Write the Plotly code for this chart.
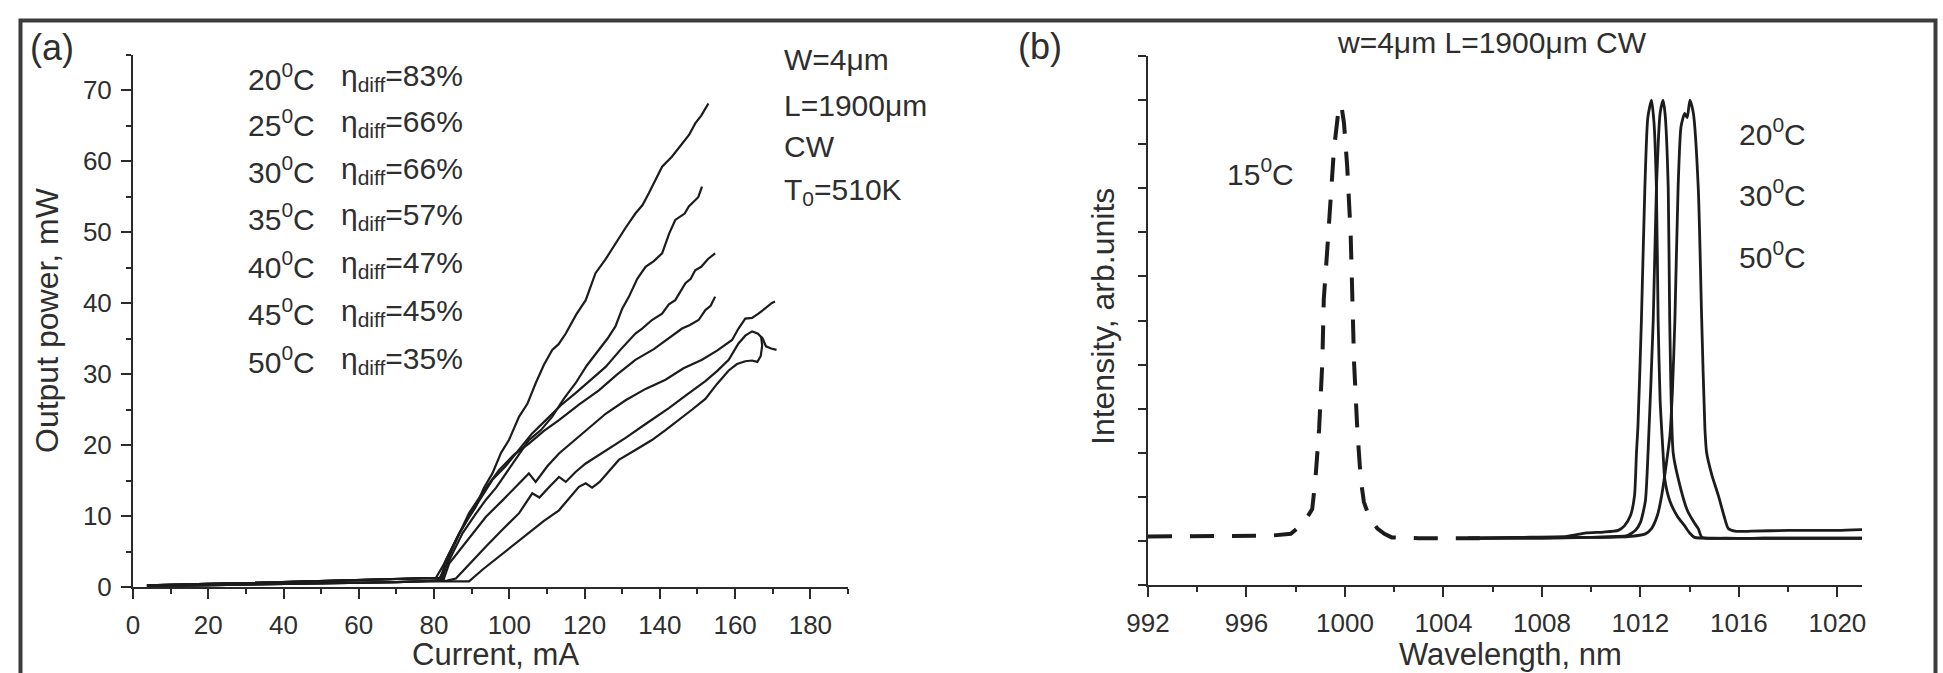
import plotly.graph_objects as go

W, H = 1943, 673
FONT = "Liberation Sans, Arial, sans-serif"
INK = "#1c1c1c"
TXT = "#2e2e2e"

# ---------------- Panel (a): L-I curves ----------------
temps_a = ["20", "25", "30", "35", "40", "45", "50"]
eta_a = ["83", "66", "66", "57", "47", "45", "35"]

# sub-threshold part (spontaneous emission), two slightly different levels
i_sub = [3.7, 10, 20, 30, 40, 50, 60, 70, 76]
p_sub_hi = [0.25, 0.35, 0.45, 0.55, 0.7, 0.8, 0.95, 1.05, 1.2]
p_sub_lo = [0.1, 0.15, 0.2, 0.3, 0.4, 0.5, 0.6, 0.7, 0.8]

i_20 = i_sub + [80.5, 82.3, 84.5, 86.7, 89, 91.1, 93.2, 95.5, 97.8, 99.9, 102.6, 104.8, 107.0, 109.2, 111.4,
                113.1, 115.0, 117.8, 120.3, 122.9, 125.5, 128.2, 130.9, 133.5, 135.4, 137.1, 139.0, 140.6,
                143.2, 145.9, 147.8, 149.4, 151.0, 152.9]
p_20 = p_sub_hi + [1.3, 2.9, 5.2, 7.6, 9.6, 11.3, 13.9, 16.0, 18.9, 20.7, 24.0, 25.8, 28.7, 31.3, 33.4,
                   34.2, 35.7, 38.4, 40.4, 44.2, 46.1, 48.4, 50.6, 52.6, 53.8, 55.5, 57.6, 59.2,
                   60.6, 62.5, 63.7, 65.3, 66.4, 68.1]

i_25 = i_sub + [81.5, 83.2, 85.5, 87.6, 90.8, 93.8, 96.5, 99.1, 102.3, 105.2, 108.4, 111.4, 114.6, 117.6,
                120.6, 123.8, 126.1, 128.2, 130.0, 131.8, 134.0, 136.2, 138.4, 140.6, 142.5, 144.1, 145.6,
                146.6, 147.7, 149.0, 150.2, 151.2]
p_25 = p_sub_hi + [1.3, 2.9, 5.3, 7.6, 10.1, 12.3, 14.0, 16.0, 18.6, 20.7, 22.1, 24.0, 26.6, 28.7,
                   31.2, 33.4, 35.0, 36.7, 39.2, 40.9, 43.4, 45.1, 45.9, 47.0, 49.8, 51.7, 52.3,
                   52.6, 53.6, 54.3, 54.9, 56.4]

i_30 = i_sub + [81.8, 83.2, 86.1, 89.3, 92.4, 95.5, 99.0, 102.6, 106.0, 109.7, 113.7, 117.6, 121.6, 125.6,
                129.5, 133.5, 135.3, 137.9, 140.6, 142.4, 144.1, 146.8, 148.2, 149.4, 151.0, 152.8, 154.7]
p_30 = p_sub_hi + [1.3, 3.8, 6.9, 9.9, 12.6, 15.1, 17.0, 19.3, 21.6, 23.5, 25.6, 27.3, 29.2, 31.0,
                   33.4, 35.7, 36.4, 37.6, 38.5, 39.8, 40.4, 42.8, 43.4, 44.6, 45.1, 46.2, 47.0]

i_35 = i_sub + [82.2, 84.0, 86.6, 89.3, 93.3, 97.3, 101.2, 105.2, 109.2, 113.2, 118.5, 123.8, 128.6, 133.5,
                138.4, 143.2, 145.9, 148.0, 150.3, 152.1, 153.5, 154.7]
p_35 = p_sub_hi + [1.2, 4.3, 7.4, 10.4, 13.6, 16.5, 18.6, 20.2, 22.0, 23.5, 25.7, 27.7, 29.9, 32.0,
                   33.5, 35.3, 36.4, 36.9, 37.6, 39.0, 39.6, 40.9]

i_40 = i_sub + [82.5, 84.0, 88.9, 93.8, 98.2, 102.6, 105.2, 107.0, 110.1, 113.2, 116.8, 120.3, 125.6, 130.9,
                136.2, 141.5, 146.3, 151.2, 155.2, 159.2, 160.9, 162.7, 164.5, 166.2, 168.2, 169.8, 170.6]
p_40 = p_sub_lo + [1.0, 3.3, 6.6, 9.9, 12.2, 14.6, 16.0, 14.8, 17.0, 18.8, 20.4, 22.0, 24.4, 26.3,
                   27.9, 29.2, 30.8, 32.0, 33.3, 34.8, 36.4, 37.8, 37.9, 38.5, 39.4, 40.0, 40.2]

i_45 = i_sub + [83.5, 85.8, 89.8, 93.8, 98.2, 102.6, 106.1, 108.0, 110.6, 113.2, 115.0, 117.6, 120.3, 125.6,
                130.9, 136.6, 142.4, 147.2, 152.1, 155.2, 158.3, 160.9, 162.7, 164.5, 166.0, 167.3, 168.2,
                169.6, 171.0]
p_45 = p_sub_lo + [0.9, 1.2, 3.5, 5.7, 8.1, 10.4, 13.2, 12.6, 14.1, 15.5, 14.8, 16.2, 17.4, 19.2,
                   21.0, 23.1, 25.2, 27.1, 29.0, 30.4, 32.0, 34.3, 35.4, 36.0, 35.7, 35.0, 33.9,
                   33.6, 33.4]

i_50 = i_sub + [84.0, 87.0, 89.3, 93.0, 98.2, 101.7, 105.2, 109.2, 113.2, 118.5, 120.3, 122.0, 124.0, 129.1,
                133.5, 137.9, 141.5, 145.0, 148.6, 152.1, 155.2, 158.3, 160.5, 162.7, 164.5, 165.9, 166.8,
                167.2, 166.9]
p_50 = p_sub_lo + [0.85, 0.85, 0.8, 2.5, 4.7, 6.1, 7.6, 9.3, 10.8, 14.1, 14.6, 14.0, 14.8, 17.9,
                   19.3, 20.7, 22.1, 23.5, 25.0, 26.5, 28.6, 30.5, 31.4, 31.8, 31.9, 31.7, 32.5,
                   34.0, 35.3]

curves_a = [(i_20, p_20), (i_25, p_25), (i_30, p_30), (i_35, p_35),
            (i_40, p_40), (i_45, p_45), (i_50, p_50)]

# ---------------- Panel (b): spectra ----------------
wl_15 = [992, 993, 994, 995, 996, 997, 997.8, 998.06, 998.4, 998.67, 998.8, 998.95, 999.08, 999.14,
         999.28, 999.41, 999.55, 999.75, 999.85, 999.96, 1000.09, 1000.23, 1000.3, 1000.37, 1000.5,
         1000.64, 1000.77, 1001.0, 1001.32, 1001.6, 1001.9, 1002.5, 1003, 1004, 1005, 1005.9]
int_15 = [0.05, 0.05, 0.06, 0.06, 0.06, 0.06, 0.08, 0.14, 0.24, 0.36, 0.70, 1.27, 2.02, 2.74,
          3.30, 3.87, 4.43, 4.92, 4.95, 4.74, 4.25, 3.49, 2.74, 2.02, 1.27,
          0.70, 0.44, 0.26, 0.14, 0.08, 0.04, 0.03, 0.03, 0.03, 0.03, 0.03]

wl_20 = [1005, 1007, 1009, 1009.8, 1010.5, 1011.1, 1011.35, 1011.6, 1011.76, 1011.84, 1011.9, 1012.04,
         1012.18, 1012.3, 1012.45, 1012.55, 1012.65, 1012.72, 1012.8, 1012.92, 1012.99, 1013.2, 1013.5,
         1013.8, 1014.0, 1014.2, 1015, 1017, 1019, 1021.1]
int_20 = [0.03, 0.04, 0.05, 0.09, 0.10, 0.12, 0.17, 0.29, 0.51, 1.0, 1.3, 2.5,
          4.0, 4.8, 5.0, 4.75, 4.0, 2.5, 1.6, 1.0, 0.7, 0.45, 0.28,
          0.17, 0.09, 0.04, 0.03, 0.03, 0.03, 0.03]

wl_30 = [1005, 1008, 1010, 1011, 1011.46, 1011.8, 1012.0, 1012.2, 1012.31, 1012.52, 1012.65, 1012.8,
         1012.92, 1013.0, 1013.13, 1013.19, 1013.33, 1013.54, 1013.9, 1014.2, 1014.35, 1014.5, 1015.5,
         1017, 1019, 1021.1]
int_30 = [0.03, 0.03, 0.04, 0.05, 0.06, 0.12, 0.21, 0.45, 1.0, 2.5, 4.0, 4.85,
          5.0, 4.85, 4.0, 2.5, 1.0, 0.7, 0.35, 0.2, 0.14, 0.04, 0.03,
          0.03, 0.03, 0.03]

wl_50 = [1005, 1008, 1010, 1011.5, 1012.2, 1012.45, 1012.7, 1012.86, 1013.06, 1013.2, 1013.3, 1013.4,
         1013.53, 1013.65, 1013.8, 1013.9, 1014.01, 1014.15, 1014.35, 1014.49, 1014.62, 1014.69, 1014.9,
         1015.17, 1015.4, 1015.57, 1015.84, 1016.5, 1018, 1020, 1021.1]
int_50 = [0.03, 0.04, 0.04, 0.05, 0.08, 0.14, 0.30, 0.51, 0.89, 1.2, 1.7, 2.5,
          4.0, 4.7, 4.85, 4.8, 5.0, 4.85, 4.0, 2.5, 1.27, 1.0, 0.75,
          0.51, 0.28, 0.14, 0.11, 0.11, 0.12, 0.12, 0.13]


def px(x):
    return x / W


def py(y):
    return 1 - y / H


fig = go.Figure()

for ii, pp in curves_a:
    fig.add_trace(go.Scatter(x=ii, y=pp, mode="lines", xaxis="x", yaxis="y",
                             line=dict(color=INK, width=2.2), showlegend=False, hoverinfo="skip"))

fig.add_trace(go.Scatter(x=wl_15, y=int_15, mode="lines", xaxis="x2", yaxis="y2",
                         line=dict(color=INK, width=4, dash="24px,18px"), showlegend=False))
for wl, it in [(wl_20, int_20), (wl_30, int_30), (wl_50, int_50)]:
    fig.add_trace(go.Scatter(x=wl, y=it, mode="lines", xaxis="x2", yaxis="y2",
                             line=dict(color=INK, width=2.8, shape="spline", smoothing=0.6),
                             showlegend=False))

axis_common = dict(showline=True, linecolor="#2a2a2a", linewidth=2, ticks="outside",
                   tickcolor="#2a2a2a", tickwidth=2, showgrid=False, zeroline=False,
                   automargin=False,
                   tickfont=dict(family=FONT, size=26, color=TXT), ticklabelstandoff=4)
minor_style = dict(ticks="outside", ticklen=5, tickwidth=1.5, tickcolor="#2a2a2a")

fig.update_layout(
    width=W, height=H,
    margin=dict(l=0, r=0, t=0, b=0, autoexpand=False),
    paper_bgcolor="white", plot_bgcolor="white",
    xaxis=dict(domain=[px(133), px(848)], range=[0, 190], tick0=0, dtick=20, anchor="y",
               ticklen=10, minor=dict(dtick=10, **minor_style), **axis_common),
    yaxis=dict(domain=[py(587), py(54.5)], range=[0, 75], tick0=0, dtick=10, anchor="x",
               ticklen=10, minor=dict(dtick=5, **minor_style), **axis_common),
    xaxis2=dict(domain=[px(1148), px(1862)], range=[992, 1021], tick0=992, dtick=4, anchor="y2",
                ticklen=10, minor=dict(dtick=2, **minor_style), **axis_common),
    yaxis2=dict(domain=[py(585), py(56)], range=[-0.5, 5.5], tick0=-0.5, dtick=0.5, anchor="x2",
                ticklen=8, showticklabels=False, **axis_common),
)

ann = []


def add_text(text, x, y, size=30, xanchor="left", yanchor="middle", angle=0):
    ann.append(dict(text=text, x=px(x), y=py(y), xref="paper", yref="paper", showarrow=False,
                    xanchor=xanchor, yanchor=yanchor, textangle=angle,
                    font=dict(family=FONT, size=size, color=TXT)))


# panel (a) texts
add_text("(a)", 28, 48, size=36)
rows_y = [77, 123, 170, 217, 265, 312, 360]
for t, e, yy in zip(temps_a, eta_a, rows_y):
    add_text(f"{t}<sup>0</sup>C", 246, yy)
    add_text(f"η<sub>diff</sub>={e}%", 339, yy)
add_text("W=4μm", 782, 59)
add_text("L=1900μm", 782, 105)
add_text("CW", 782, 146)
add_text("T<sub>0</sub>=510K", 782, 191)
add_text("Current, mA", 495, 654, size=31, xanchor="center")
add_text("Output power, mW", 47, 320, size=32, xanchor="center", angle=-90)

# panel (b) texts
add_text("(b)", 1016, 47, size=36)
add_text("w=4μm L=1900μm CW", 1335, 42)
add_text("15<sup>0</sup>C", 1225, 172)
add_text("20<sup>0</sup>C", 1737, 132)
add_text("30<sup>0</sup>C", 1737, 193)
add_text("50<sup>0</sup>C", 1737, 255)
add_text("Wavelength, nm", 1510, 654, size=31, xanchor="center")
add_text("Intensity, arb.units", 1103, 317, size=32, xanchor="center", angle=-90)

fig.update_layout(annotations=ann)

# outer frame
fig.add_shape(type="rect", xref="paper", yref="paper",
              x0=px(20.5), x1=px(1935.5), y0=py(700), y1=py(20.5),
              line=dict(color="#3c3c3c", width=4), fillcolor="rgba(0,0,0,0)", layer="above")

fig.write_html("out.html", include_plotlyjs=True, config={"displayModeBar": False},
               post_script="document.body.style.margin='0';document.body.style.overflow='hidden';")
